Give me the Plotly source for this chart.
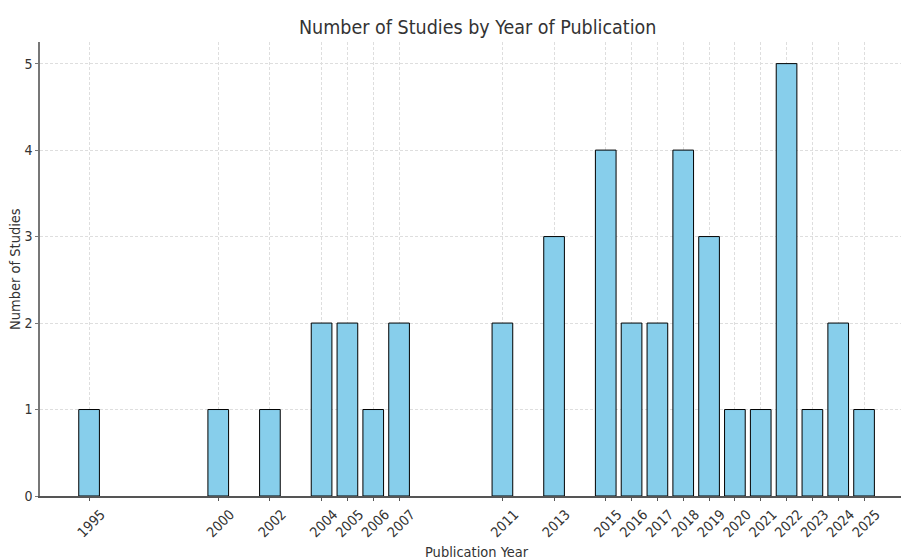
import plotly.graph_objects as go

years = [1995, 2000, 2002, 2004, 2005, 2006, 2007, 2011, 2013, 2015, 2016, 2017,
         2018, 2019, 2020, 2021, 2022, 2023, 2024, 2025]
counts = [1, 1, 1, 2, 2, 1, 2, 2, 3, 4, 2, 2, 4, 3, 1, 1, 5, 1, 2, 1]
tick_labels = [str(y) for y in years]

FONT = "DejaVu Sans Condensed, DejaVu Sans"
TXT = "#333333"

fig = go.Figure()
fig.add_trace(go.Bar(
    x=years, y=counts, width=0.8,
    marker=dict(color="#87CEEB", line=dict(color="black", width=1)),
))

L, R, T, B = 40, 0, 42, 61
W, H = 901, 557

fig.update_layout(
    width=W, height=H,
    margin=dict(l=L, r=R, t=T, b=B, pad=0, autoexpand=False),
    paper_bgcolor="white", plot_bgcolor="white",
    showlegend=False,
    font=dict(family=FONT, color=TXT),
    xaxis=dict(
        range=[1993.1, 2026.43], tickmode="array", tickvals=years, ticktext=tick_labels,
        tickangle=-45, tickfont=dict(size=14, family=FONT, color=TXT), ticklabelshift=12,
        showgrid=True, gridcolor="#dedede", griddash="3px,2px", gridwidth=1,
        showline=True, linecolor="#555555", linewidth=1.5, automargin=False,
        ticks="outside", ticklen=3, tickcolor="#555555", zeroline=False,
    ),
    yaxis=dict(
        range=[0, 5.25], tickmode="array", tickvals=[0, 1, 2, 3, 4, 5],
        tickfont=dict(size=14, family=FONT, color=TXT),
        showgrid=True, gridcolor="#dedede", griddash="3px,2px", gridwidth=1,
        showline=True, linecolor="#777777", linewidth=1.5, automargin=False,
        ticks="outside", ticklen=3, tickcolor="#777777", zeroline=False,
    ),
    annotations=[
        dict(text="Number of Studies by Year of Publication", xref="paper", yref="paper",
             x=(477 - L) / (W - L - R), y=1 + (42 - 28) / (H - T - B), showarrow=False,
             xanchor="center", yanchor="middle", font=dict(size=19.5, family=FONT, color=TXT)),
        dict(text="Publication Year", xref="paper", yref="paper",
             x=(477 - L) / (W - L - R), y=-(552 - 496) / (H - T - B), showarrow=False,
             xanchor="center", yanchor="middle", font=dict(size=14.5, family=FONT, color=TXT)),
        dict(text="Number of Studies", xref="paper", yref="paper",
             x=-(40 - 15) / (W - L - R), y=0.5, showarrow=False, textangle=-90,
             xanchor="center", yanchor="middle", font=dict(size=14.5, family=FONT, color=TXT)),
    ],
)

fig.write_html("out.html", config={"displayModeBar": False},
               post_script="document.body.style.margin='0';document.body.style.overflow='hidden';")
